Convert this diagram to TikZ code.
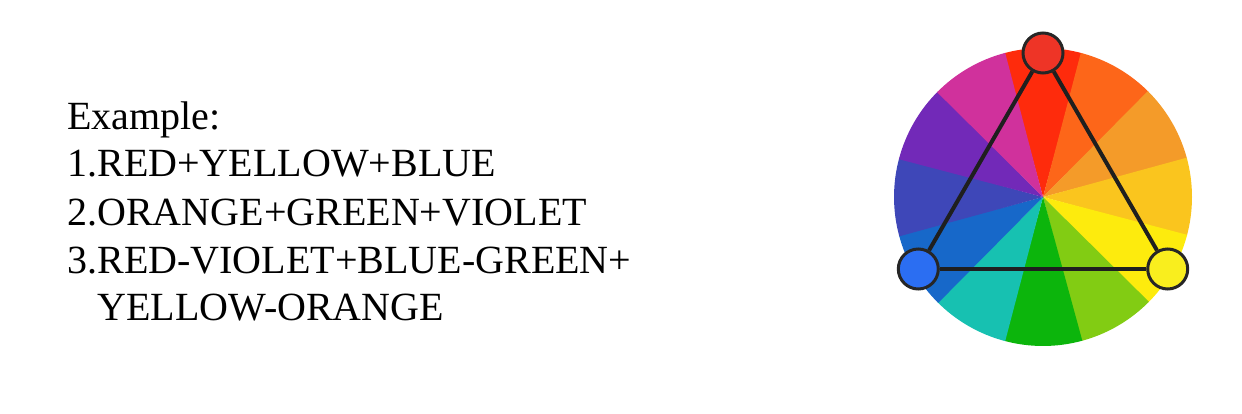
\documentclass[tikz,border=0pt]{standalone}
\usepackage{fontspec}
\setmainfont{Liberation Serif}
\usepackage{xcolor}
\usetikzlibrary{positioning,calc}
\definecolor{wred}{HTML}{FE2B0C}
\definecolor{wredorange}{HTML}{FD6619}
\definecolor{worange}{HTML}{F49B29}
\definecolor{wyelloworange}{HTML}{FAC51E}
\definecolor{wyellow}{HTML}{FDEB0D}
\definecolor{wyellowgreen}{HTML}{82CC13}
\definecolor{wgreen}{HTML}{0CB50C}
\definecolor{wbluegreen}{HTML}{17C1B1}
\definecolor{wblue}{HTML}{1768C9}
\definecolor{wblueviolet}{HTML}{3E47B8}
\definecolor{wviolet}{HTML}{7229B8}
\definecolor{wredviolet}{HTML}{D0319C}
\definecolor{pickred}{HTML}{EE3426}
\definecolor{pickblue}{HTML}{2B6EF2}
\definecolor{pickyellow}{HTML}{F9EE1E}
\tikzset{
 textline/.style={inner sep=0pt,anchor=base west,font=\fontsize{20}{24}\selectfont},
 pick/.style={circle,draw=black!85,line width=1.5pt,minimum size=20pt,inner sep=0pt},
 triad/.style={draw=black!88,line width=2pt}}

\begin{document}
\begin{tikzpicture}[x=0.5pt,y=0.5pt]
  \useasboundingbox (0,0) rectangle (1242,413);
  % text
  \node[textline] (l1) at (67,283) {Example:};
  \node[textline] (l2) at (67,236) {1.RED+YELLOW+BLUE};
  \node[textline] (l3) at (67,188) {2.ORANGE+GREEN+VIOLET};
  \node[textline] (l4) at (67,140) {3.RED-VIOLET+BLUE-GREEN+};
  \node[textline] (l5) at ([xshift=15pt,yshift=-23.75pt]l4.base west) {YELLOW-ORANGE};
  % colour wheel
  \coordinate (hub) at (1043,216);
  \foreach \a/\c in {90/wred,60/wredorange,30/worange,0/wyelloworange,
      -30/wyellow,-60/wyellowgreen,-90/wgreen,-120/wbluegreen,
      -150/wblue,180/wblueviolet,150/wviolet,120/wredviolet}
    \fill[\c] (hub) -- ($(hub)+(\a-15.3:149)$) arc[start angle=\a-15.3,end angle=\a+15.3,radius=149] -- cycle;
  % triad
  \node[pick,fill=pickred] (r) at ($(hub)+(90:144)$) {};
  \node[pick,fill=pickblue] (b) at ($(hub)+(210:144)$) {};
  \node[pick,fill=pickyellow] (y) at ($(hub)+(330:144)$) {};
  \draw[triad] (r) -- (y);
  \draw[triad] (y) -- (b);
  \draw[triad] (b) -- (r);
\end{tikzpicture}
\end{document}
